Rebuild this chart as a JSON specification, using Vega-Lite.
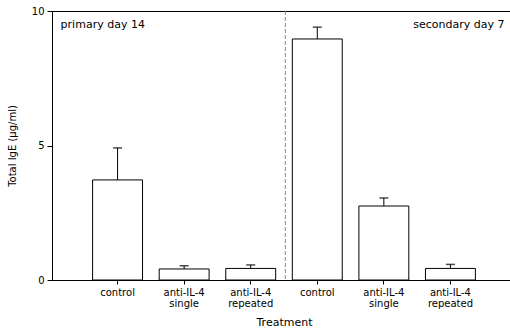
{
  "$schema": "https://vega.github.io/schema/vega-lite/v6.json",
  "width": 464,
  "height": 269,
  "autosize": {"type": "none"},
  "padding": {"left": 52, "top": 11, "right": 0, "bottom": 51},
  "background": "white",
  "config": {
    "view": {"stroke": "#000", "strokeWidth": 1},
    "font": "DejaVu Sans",
    "axis": {
      "domainColor": "#000",
      "tickColor": "#000",
      "labelColor": "#000",
      "titleColor": "#000",
      "titleFontWeight": "normal",
      "grid": false
    }
  },
  "datasets": {
    "ige": [
      {"phase": "primary", "bar": "primary|control", "ige": 3.72, "upper": 4.91},
      {"phase": "primary", "bar": "primary|anti-IL-4 single", "ige": 0.41, "upper": 0.53},
      {"phase": "primary", "bar": "primary|anti-IL-4 repeated", "ige": 0.43, "upper": 0.56},
      {"phase": "secondary", "bar": "secondary|control", "ige": 8.96, "upper": 9.4},
      {"phase": "secondary", "bar": "secondary|anti-IL-4 single", "ige": 2.75, "upper": 3.05},
      {"phase": "secondary", "bar": "secondary|anti-IL-4 repeated", "ige": 0.43, "upper": 0.58}
    ],
    "phases": [
      {"phase": "primary", "note": "primary day 14", "first": "primary|control", "last": "primary|anti-IL-4 repeated", "level": 9.48},
      {"phase": "secondary", "note": "secondary day 7", "first": "secondary|control", "last": "secondary|anti-IL-4 repeated", "level": 9.48}
    ]
  },
  "layer": [
    {
      "data": {"name": "ige"},
      "mark": {"type": "bar", "fill": "white", "stroke": "#000", "strokeWidth": 1},
      "encoding": {
        "x": {
          "field": "bar",
          "type": "nominal",
          "sort": null,
          "scale": {
            "domain": [
              "primary|control", "primary|anti-IL-4 single", "primary|anti-IL-4 repeated",
              "secondary|control", "secondary|anti-IL-4 single", "secondary|anti-IL-4 repeated"
            ],
            "paddingInner": 0.25,
            "paddingOuter": 0.61
          },
          "axis": {
            "title": "Treatment",
            "titleFontSize": 11,
            "titlePadding": 8,
            "labelAngle": 0,
            "labelFontSize": 10,
            "labelLineHeight": 11,
            "labelPadding": 3,
            "tickSize": 4,
            "labelExpr": "split(split(datum.label, '|')[1], ' ')"
          }
        },
        "y": {
          "field": "ige",
          "type": "quantitative",
          "scale": {"domain": [0, 10], "nice": false},
          "axis": {
            "title": "Total IgE (µg/ml)",
            "values": [0, 5, 10],
            "titleFontSize": 10,
            "labelFontSize": 10,
            "tickSize": 5,
            "labelPadding": 3,
            "titlePadding": 14
          }
        }
      }
    },
    {
      "data": {"name": "ige"},
      "mark": {"type": "rule", "color": "#000", "strokeWidth": 1},
      "encoding": {
        "x": {"field": "bar", "type": "nominal"},
        "y": {"field": "ige", "type": "quantitative"},
        "y2": {"field": "upper"}
      }
    },
    {
      "data": {"name": "ige"},
      "mark": {"type": "tick", "color": "#000", "size": 9, "thickness": 1.5},
      "encoding": {
        "x": {"field": "bar", "type": "nominal"},
        "y": {"field": "upper", "type": "quantitative"}
      }
    },
    {
      "data": {"name": "phases"},
      "transform": [{"filter": "datum.phase === 'secondary'"}],
      "mark": {"type": "rule", "color": "#888", "strokeWidth": 1, "strokeDash": [4, 2], "xOffset": -7},
      "encoding": {
        "x": {"field": "first", "type": "nominal", "bandPosition": 0}
      }
    },
    {
      "data": {"name": "phases"},
      "transform": [{"filter": "datum.phase === 'primary'"}],
      "mark": {"type": "text", "align": "left", "baseline": "middle", "fontSize": 11, "dx": -32, "color": "#000"},
      "encoding": {
        "x": {"field": "first", "type": "nominal", "bandPosition": 0},
        "y": {"field": "level", "type": "quantitative"},
        "text": {"field": "note"}
      }
    },
    {
      "data": {"name": "phases"},
      "transform": [{"filter": "datum.phase === 'secondary'"}],
      "mark": {"type": "text", "align": "right", "baseline": "middle", "fontSize": 11, "dx": 29, "color": "#000"},
      "encoding": {
        "x": {"field": "last", "type": "nominal", "bandPosition": 1},
        "y": {"field": "level", "type": "quantitative"},
        "text": {"field": "note"}
      }
    }
  ]
}
